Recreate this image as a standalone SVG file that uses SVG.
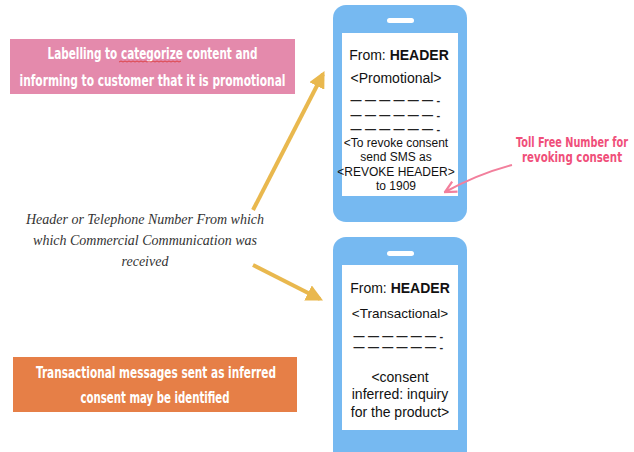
<svg xmlns="http://www.w3.org/2000/svg" width="634" height="452" viewBox="0 0 634 452">
<defs>
<style>
.phone{fill:#76b9f1}
.screen{fill:#ffffff}
.pill{fill:#ffffff}
.pt{font-family:"Liberation Sans",Arial,sans-serif;fill:#111;text-anchor:middle}
.hand{font-family:"DejaVu Sans Condensed","DejaVu Sans",sans-serif;font-weight:bold;fill:#ffffff;text-anchor:middle;font-size:15px}
.dash{font-family:"Liberation Sans",Arial,sans-serif;fill:#222;font-size:11px;font-weight:bold;letter-spacing:3.3px;text-anchor:middle}
.it{font-family:"Liberation Serif","Times New Roman",serif;font-style:italic;font-size:14px;fill:#333;text-anchor:middle}
.gold{stroke:#e9b84e;stroke-width:4;fill:none}
.pinkline{stroke:#f27f9c;stroke-width:2;fill:none}
.pinktxt{font-family:"DejaVu Sans Condensed","DejaVu Sans",sans-serif;font-weight:bold;font-size:14px;fill:#f04f7a;text-anchor:middle}
</style>
<marker id="gh" viewBox="0 0 10 10" refX="8" refY="5" markerWidth="4.2" markerHeight="4.2" orient="auto" markerUnits="strokeWidth">
<path d="M0,0 L10,5 L0,10 z" fill="#e9b84e"/>
</marker>
<marker id="ph" viewBox="0 0 10 10" refX="9" refY="5" markerWidth="7" markerHeight="7" orient="auto" markerUnits="strokeWidth">
<path d="M1,1 L9,5 L1,9" fill="none" stroke="#f27f9c" stroke-width="1.6"/>
</marker>
</defs>
<rect width="634" height="452" fill="#ffffff"/>

<g id="promo-label">
<rect x="10" y="39" width="285" height="55" fill="#e48aac"/>
<text class="hand" x="152.5" y="58.5" textLength="210" lengthAdjust="spacingAndGlyphs">Labelling to categorize content and</text>
<path d="M119,62 l2,-1 l2,1 l2,-1 l2,1 l2,-1 l2,1 l2,-1 l2,1 l2,-1 l2,1 l2,-1 l2,1 l2,-1 l2,1 l2,-1 l2,1 l2,-1 l2,1 l2,-1 l2,1 l2,-1 l2,1 l2,-1 l2,1 l2,-1 l2,1 l2,-1 l2,1 l2,-1 l2,1 l2,-1" fill="none" stroke="#d9302c" stroke-width="0.8"/>
<text class="hand" x="152.5" y="85.5" textLength="266" lengthAdjust="spacingAndGlyphs">informing to customer that it is promotional</text>
</g>

<g id="trans-label">
<rect x="13" y="357" width="284" height="55" fill="#e67f47"/>
<text class="hand" x="156" y="377.5" textLength="240" lengthAdjust="spacingAndGlyphs">Transactional messages sent as inferred</text>
<text class="hand" x="155" y="402.5" textLength="149" lengthAdjust="spacingAndGlyphs">consent may be identified</text>
</g>

<g id="header-note">
<text class="it" x="145" y="224">Header or Telephone Number From which</text>
<text class="it" x="145" y="245">which Commercial Communication was</text>
<text class="it" x="145" y="266">received</text>
</g>

<g id="tollfree-note">
<text class="pinktxt" transform="translate(572,147) scale(0.7,1)" x="0" y="0" textLength="160" lengthAdjust="spacingAndGlyphs">Toll Free Number for</text>
<text class="pinktxt" transform="translate(572,162) scale(0.7,1)" x="0" y="0" textLength="143" lengthAdjust="spacingAndGlyphs">revoking consent</text>
</g>

<g id="phone-promotional">
<rect class="phone" x="333" y="5" width="134" height="217" rx="13"/>
<rect class="screen" x="342" y="33" width="116" height="163"/>
<rect class="pill" x="387" y="18" width="27" height="5" rx="2.5"/>
<text class="pt" x="399" y="60" font-size="14">From: <tspan font-weight="bold">HEADER</tspan></text>
<text class="pt" x="396" y="83" font-size="14">&lt;Promotional&gt;</text>
<text class="dash" x="397" y="104">——————-</text>
<text class="dash" x="397" y="119">——————-</text>
<text class="dash" x="397" y="133">——————-</text>
<text class="pt" x="396" y="147" font-size="12">&lt;To revoke consent</text>
<text class="pt" x="396" y="161" font-size="12">send SMS as</text>
<text class="pt" x="396" y="176" font-size="12">&lt;REVOKE HEADER&gt;</text>
<text class="pt" x="396" y="190" font-size="12">to 1909</text>
</g>

<g id="phone-transactional">
<rect class="phone" x="333" y="237" width="134" height="240" rx="13"/>
<rect class="screen" x="342" y="265" width="116" height="165"/>
<rect class="pill" x="387" y="251" width="27" height="5" rx="2.5"/>
<text class="pt" x="400" y="293" font-size="14">From: <tspan font-weight="bold">HEADER</tspan></text>
<text class="pt" x="400" y="318" font-size="13.5">&lt;Transactional&gt;</text>
<text class="dash" x="400" y="340">——————-</text>
<text class="dash" x="400" y="351">——————-</text>
<text class="pt" x="400" y="382" font-size="14">&lt;consent</text>
<text class="pt" x="400" y="399" font-size="14">inferred: inquiry</text>
<text class="pt" x="400" y="417" font-size="14">for the product&gt;</text>
</g>

<g id="connectors">
<path class="gold" d="M253,210 L323,74" marker-end="url(#gh)"/>
<path class="gold" d="M253,265 L320,299" marker-end="url(#gh)"/>
<path class="pinkline" d="M512,165 Q478,174 445,192" marker-end="url(#ph)"/>
</g>
</svg>
